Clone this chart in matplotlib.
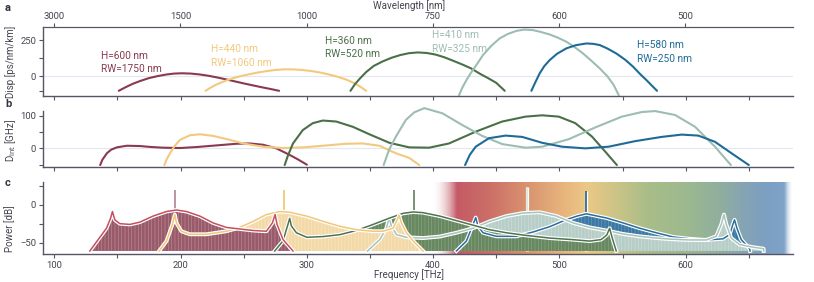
import numpy as np
import matplotlib
matplotlib.use("Agg")
import matplotlib.pyplot as plt
import matplotlib.patheffects as pe
from matplotlib.colors import LinearSegmentedColormap, to_rgba
from matplotlib.ticker import MultipleLocator, FixedLocator

plt.rcParams["font.family"] = ["Roboto", "DejaVu Sans"]
plt.rcParams["hatch.linewidth"] = 0.45

C_THZ_NM = 299792.458

# ── device labels / colours ──────────────────────────────────────────────────
LABELS = ["H=600 nm\nRW=1750 nm", "H=440 nm\nRW=1060 nm", "H=360 nm\nRW=520 nm",
          "H=410 nm\nRW=325 nm", "H=580 nm\nRW=250 nm"]
LINE_COL = ["#8a3a50", "#f2c97e", "#4a7048", "#9ebdb2", "#1f6b98"]
EDGE_COL = ["#c4505f", "#f2c779", "#4d7351", "#a7c3bb", "#2b6d9b"]
FILL_COL = ["#995a6a", "#f3d9a6", "#688861", "#b7cdc7", "#3b78a3"]
HATCH_COL = ["#b98a96", "#f9e7c6", "#8aa583", "#d0ddd9", "#6c9bbd"]
PUMP_COL = ["#b88e97", "#f0c880", "#6b8c68", "#dfe5e2", "#2a6c9c"]
LABEL_POS = [(136.8, 95), (223.9, 142), (314.2, 198), (399.1, 238), (561.7, 170)]

# ── panel a: dispersion [ps/nm/km] vs frequency [THz] ────────────────────────
disp_f = [
    [151, 156, 162, 168, 175, 182, 189, 195, 201, 208, 215, 222, 229, 236, 243, 250, 257, 264, 271, 278],
    [219.7, 223, 228, 234, 240, 247, 254, 261, 268, 275, 282, 289, 296, 303, 310, 317, 324, 331, 337, 342, 347],
    [334.5, 338, 342, 347, 353, 360, 367, 374, 381, 388, 395, 402, 409, 416, 423, 430, 437, 444, 450, 456.7],
    [420.5, 423, 426.4, 430, 434, 439.5, 446, 452.7, 459, 466, 472.5, 479, 485, 492.3, 499, 505.5, 512, 518.7, 525, 531.9, 538, 543, 547],
    [477.8, 481, 484.4, 488, 492.3, 498, 505.5, 513, 521.4, 527, 531.9, 538, 545, 552, 558.3, 564, 568.8, 573, 577.3],
]
disp_v = [
    [-100, -77, -52, -32, -12, 2, 13, 19, 21, 19, 13, 4, -8, -21, -35, -49, -62, -75, -87, -100],
    [-100, -82, -58, -36, -17, 0, 14, 26, 36, 44, 48, 48, 44, 37, 27, 14, -2, -22, -45, -70, -100],
    [-100, -55, -15, 30, 72, 103, 128, 147, 160, 165, 161, 150, 131, 107, 82, 55, 18, -15, -45, -100],
    [-130, -80, -25, 25, 75, 147, 210, 262, 292, 314, 323, 319, 307, 289, 266, 239, 202, 158, 110, 55, 0, -60, -130],
    [-100, -40, 21, 70, 112, 155, 193, 215, 227, 224, 216, 192, 158, 115, 67, 15, -25, -62, -100],
]

# ── panel b: integrated dispersion [GHz] ─────────────────────────────────────
dint_f = [
    [136.3, 138, 141.6, 145, 149.5, 157.4, 167.9, 177, 186.3, 199.5, 212.6, 228.4, 244.2, 254.7, 265.3, 275.8, 286.3, 293, 300],
    [187.1, 189, 191.6, 195, 199.5, 207.4, 215.3, 225.8, 238.9, 249.5, 265.3, 281, 296.8, 312.6, 331, 344.2, 357.4, 370.5, 381, 389],
    [282.4, 285, 289, 296.8, 304.7, 312.6, 323.2, 336.3, 349.5, 365.3, 381, 396.8, 412.6, 433.7, 454.7, 473.2, 486.3, 499.5, 512.6, 525.8, 536.3, 545.5],
    [360.8, 365, 370.5, 378.4, 385, 393, 407.4, 423.2, 438.9, 454.7, 473.2, 486.3, 507.4, 528.4, 549.5, 565.3, 575.8, 591.6, 607.4, 623.2, 635.8],
    [425.3, 429, 433.7, 444.2, 457.4, 470.5, 486.3, 502.1, 520.5, 538.9, 560, 581, 596.8, 610, 623.2, 636.3, 650],
]
dint_v = [
    [-51, -35, -15, -4, 3, 8, 7, 4, 2, 1, 4, 9, 14, 15, 11, 0, -20, -34, -50],
    [-51, -33, -15, 6, 26, 40, 43, 38, 26, 15, 5, 1, 3, 8, 14, 15, 8, -15, -29, -51],
    [-51, -22, 15, 56, 77, 85, 82, 66, 43, 17, 3, 2, 15, 51, 82, 97, 101, 97, 77, 36, -10, -51],
    [-51, -5, 36, 87, 110, 123, 107, 71, 38, 13, 2, 5, 28, 64, 97, 111, 114, 102, 66, 5, -51],
    [-51, -20, 5, 31, 39, 35, 17, 5, 0, 5, 22, 35, 42, 39, 20, -15, -51],
]

# ── panel c: comb power envelopes [dB] ───────────────────────────────────────
pow_f = [
    [128.1, 134.7, 141.3, 144.5, 146, 147.9, 151.8, 159.8, 167.7, 178.2, 188.8, 196.7, 204.6, 215.2, 225.7, 236.3, 246.8, 257.4, 267.9, 272.7, 274.8, 276.4, 281.1, 289],
    [183, 188.8, 193.5, 195.4, 196.7, 200.6, 207.3, 220.5, 236.3, 246.8, 257.4, 267.9, 278.5, 286.5, 299.7, 312.9, 326.1, 339.3, 352.5, 360.4, 368.3, 371.5, 373, 374.9, 378.8, 385.4, 392],
    [274.5, 281, 285, 286.4, 287.7, 291.7, 300, 312.9, 326.1, 339.3, 352.5, 365.7, 376.2, 384.1, 392, 405.2, 418.4, 431.6, 444.8, 458, 471.2, 492.3, 510, 524, 533, 537.5, 539.8, 541.5, 545],
    [348, 357.7, 363, 365.1, 367, 371, 378.8, 392, 405.2, 418.4, 431.6, 444.8, 458, 471.2, 484.4, 497.6, 510.8, 524, 537.2, 550.4, 563.5, 576.7, 589.9, 603.1, 616.3, 624.2, 628.2, 630.3, 632.2, 636.1, 642.7, 653.3, 661.7, 661.8],
    [418.4, 426.3, 431.6, 433.7, 435.6, 439.5, 450.1, 465.9, 479.1, 492.3, 505, 514, 521.3, 537.2, 550.4, 563.5, 576.7, 589.9, 603.1, 616.3, 629.5, 634.8, 637.4, 638.7, 640.6, 644, 650.6, 651],
]
pow_v = [
    [-61, -46, -31, -18, -9, -20, -25, -26, -23, -15, -9, -7, -9, -15, -24, -30, -32, -34, -35, -24, -13, -26, -46, -61],
    [-61, -48, -26, -13, -24, -35, -39, -39, -35, -30, -22, -13, -9, -10, -15, -22, -28.5, -33, -35, -35, -31, -20, -14, -24, -37, -50, -61],
    [-61, -48, -26, -18, -28, -37, -43, -42, -39.5, -34, -26, -17.5, -11.4, -9.6, -10.5, -15, -21, -27, -33, -37, -40, -44, -46, -48, -46, -40, -31, -42, -61],
    [-61, -46, -31, -17, -28.5, -39.5, -43, -44, -42, -37, -31, -22, -15, -11, -10, -15, -24, -30, -34, -38.6, -41.7, -44, -45.6, -46.5, -46.5, -41.7, -26, -13, -26, -44, -52.6, -56, -58, -61],
    [-61, -48, -26, -17, -28.5, -37, -41.7, -41.7, -36, -29, -20, -15, -12, -17.5, -24, -31, -37, -42.5, -45, -46.5, -45, -39.5, -26, -20, -31, -46, -58, -61],
]
pump_f = [195.5, 282.0, 384.6, 474.6, 521.3]
pump_top = [20, 20, 20, 23, 17.5]

# visible-spectrum backdrop stops (THz)
grad_f = [398, 418, 445, 475, 500, 521, 545, 570, 600, 628, 648, 665, 678, 685]
grad_c = ["#ffffff", "#c45a66", "#cc7068", "#d9956f", "#e6b27c", "#ecc886", "#cbc486",
          "#a8bd89", "#9db98f", "#8fae9f", "#84a3b6", "#7c9fc3", "#7fa3c8", "#ffffff"]
grad_a = [0.0, 1, 1, 1, 1, 1, 1, 1, 1, 1, 1, 1, 1, 0.0]

XLIM = (91, 685)
SPINE = "#555566"
TXT = "#444450"


def style(ax):
    for s in ["top", "right"]:
        ax.spines[s].set_visible(False)
    for s in ["left", "bottom"]:
        ax.spines[s].set_color(SPINE)
        ax.spines[s].set_linewidth(1.0)
    ax.set_xlim(*XLIM)
    ax.xaxis.set_major_locator(MultipleLocator(100))
    ax.xaxis.set_minor_locator(MultipleLocator(50))
    ax.tick_params(which="both", direction="out", length=3, width=0.8, color=SPINE,
                   labelsize=6.8, labelcolor=TXT, pad=2)


fig = plt.figure(figsize=(8.14, 2.82), dpi=100)
L, W = 43 / 814, 750 / 814
ax_a = fig.add_axes([L, 0.660, W, 0.245])
ax_b = fig.add_axes([L, 0.409, W, 0.196])
ax_c = fig.add_axes([L, 0.0993, W, 0.2542])

# ── a ────────────────────────────────────────────────────────────────────────
style(ax_a)
ax_a.spines["top"].set_visible(True)
ax_a.spines["top"].set_color(SPINE)
ax_a.axhline(0, color="#e4e6f2", lw=0.8, zorder=0)
for f, v, col in zip(disp_f, disp_v, LINE_COL):
    ax_a.plot(f, v, color=col, lw=1.5, solid_capstyle="round")
for (x, y), txt, col in zip(LABEL_POS, LABELS, LINE_COL):
    ax_a.text(x, y, txt, color=col, fontsize=7.3, va="center", ha="left", linespacing=1.45)
ax_a.set_ylim(-135, 342)
ax_a.yaxis.set_major_locator(FixedLocator([0, 250]))
ax_a.yaxis.set_minor_locator(FixedLocator([-100, 125]))
ax_a.tick_params(axis="x", labelbottom=False)

sec = ax_a.secondary_xaxis("top", functions=(lambda f: C_THZ_NM / np.maximum(f, 1e-6),
                                              lambda w: C_THZ_NM / np.maximum(w, 1e-6)))
sec.set_xticks([3000, 1500, 1000, 750, 600, 500])
sec.xaxis.set_minor_locator(FixedLocator([]))
sec.tick_params(length=3, width=0.8, color=SPINE, labelsize=6.8, labelcolor=TXT, pad=1.5)
sec.spines["top"].set_color(SPINE)

# ── b ────────────────────────────────────────────────────────────────────────
style(ax_b)
ax_b.axhline(0, color="#e4e6f2", lw=0.8, zorder=0)
for f, v, col in zip(dint_f, dint_v, LINE_COL):
    ax_b.plot(f, v, color=col, lw=1.5, clip_on=False, solid_capstyle="round")
ax_b.set_ylim(-56, 113)
ax_b.yaxis.set_major_locator(FixedLocator([0, 100]))
ax_b.yaxis.set_minor_locator(FixedLocator([-50, 50]))
ax_b.tick_params(axis="x", labelbottom=False)

# ── c ────────────────────────────────────────────────────────────────────────
style(ax_c)
ax_c.set_ylim(-65, 29.5)
pos = [(g - grad_f[0]) / (grad_f[-1] - grad_f[0]) for g in grad_f]
cmap = LinearSegmentedColormap.from_list(
    "vis", [(p, to_rgba(c, a)) for p, c, a in zip(pos, grad_c, grad_a)])
ax_c.imshow(np.linspace(0, 1, 512)[None, :], cmap=cmap, aspect="auto",
            extent=[grad_f[0], grad_f[-1], -65, 29.5], zorder=0, interpolation="bilinear")
ax_c.set_xlim(*XLIM)

halo = [pe.Stroke(linewidth=2.8, foreground="white"), pe.Normal()]
n = len(pow_f)
for i in range(n - 1, -1, -1):
    z = 2 + (n - i)
    ax_c.fill_between(pow_f[i], pow_v[i], -61, facecolor=FILL_COL[i],
                      edgecolor=HATCH_COL[i], hatch="|||||", linewidth=0, zorder=z)
    ax_c.vlines(pump_f[i], -61, pump_top[i], color=PUMP_COL[i], lw=1.3, zorder=z - 0.5,
                path_effects=[pe.Stroke(linewidth=2.3, foreground="white"), pe.Normal()])
for i in range(n - 1, -1, -1):
    ax_c.plot(pow_f[i], pow_v[i], color=EDGE_COL[i], lw=1.1, zorder=10 + (n - i),
              path_effects=halo)
ax_c.yaxis.set_major_locator(FixedLocator([-50, 0]))
ax_c.yaxis.set_minor_locator(FixedLocator([-25, 25]))
ax_c.set_xticks([100, 200, 300, 400, 500, 600])

# ── labels ───────────────────────────────────────────────────────────────────
fig.text(0.0125, 0.78, "Disp [ps/nm/km]", rotation=90, ha="center", va="center",
         fontsize=7, color=TXT)
fig.text(0.0125, 0.503, r"D$_{\rm int}$ [GHz]", rotation=90, ha="center", va="center",
         fontsize=7, color=TXT)
fig.text(0.0125, 0.19, "Power [dB]", rotation=90, ha="center", va="center",
         fontsize=7, color=TXT)
fig.text(0.502, 0.025, "Frequency [THz]", ha="center", va="center", fontsize=7, color=TXT)
fig.text(0.502, 0.982, "Wavelength [nm]", ha="center", va="center", fontsize=7, color=TXT)
for lab, y in zip("abc", [0.972, 0.632, 0.352]):
    fig.text(0.006, y, lab, fontsize=8, fontweight="bold", color="#333340", va="center")

fig.savefig("out.png", dpi=100)
